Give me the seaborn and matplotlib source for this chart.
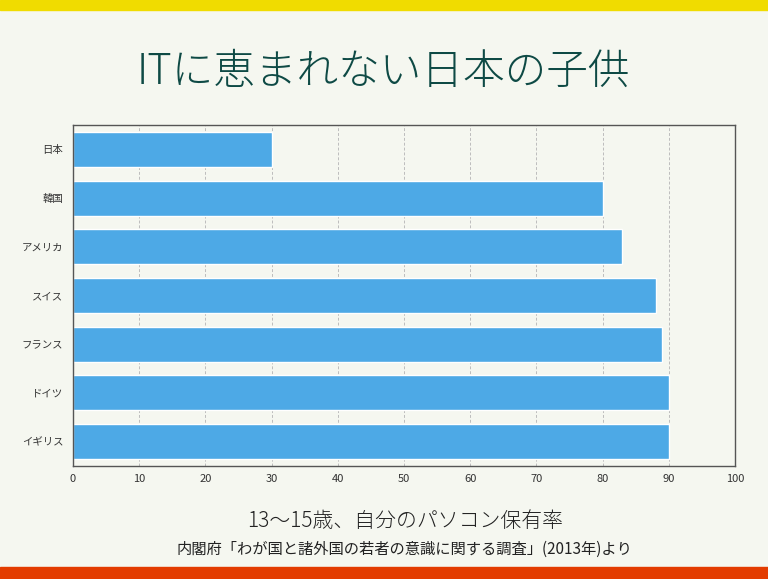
import matplotlib
matplotlib.use("Agg")
import matplotlib.pyplot as plt
import seaborn as sns
import pandas as pd

# 13-15歳のパソコン保有率 (%)
countries = ["日本", "韓国", "アメリカ", "スイス", "フランス", "ドイツ", "イギリス"]
rates = [30, 80, 83, 88, 89, 90, 90]
x_ticks = [0, 10, 20, 30, 40, 50, 60, 70, 80, 90, 100]

df = pd.DataFrame({"country": countries, "rate": rates})

bg = "#f5f7f0"
sns.set_style("ticks")
plt.rcParams["font.family"] = ["Noto Sans CJK JP", "DejaVu Sans"]

fig = plt.figure(figsize=(7.68, 5.79), dpi=100, facecolor=bg)
ax = fig.add_axes([73 / 768, 1 - 466 / 579, (735 - 73) / 768, (466 - 125) / 579])
ax.set_facecolor(bg)

sns.barplot(data=df, x="rate", y="country", color="#4da9e6", saturation=1,
            width=0.72, ax=ax, zorder=2)

ax.set_xlim(0, 100)
ax.set_xticks(x_ticks)
ax.grid(axis="x", linestyle=(0, (3, 2)), color="#bdbdbd", linewidth=0.7, zorder=0)
ax.grid(axis="y", visible=False)
for s in ax.spines.values():
    s.set_visible(True)
    s.set_color("#555555")
    s.set_linewidth(1)
ax.tick_params(axis="x", labelsize=8, length=0, pad=6, colors="#333333")
ax.tick_params(axis="y", labelsize=7.5, length=0, pad=7, colors="#333333")
ax.set_xlabel("")
ax.set_ylabel("")

# 上下の帯
fig.patches.append(plt.Rectangle((0, 1 - 10 / 579), 1, 10 / 579, transform=fig.transFigure,
                                 color="#f0dc00", zorder=0))
fig.patches.append(plt.Rectangle((0, 0), 1, 12 / 579, transform=fig.transFigure,
                                 color="#e33c00", zorder=0))

fig.text(383 / 768, 1 - 72 / 579, "ITに恵まれない日本の子供", ha="center", va="center",
         fontsize=30, fontweight="light", color="#0e4a45")
fig.text(405 / 768, 1 - 521 / 579, "13〜15歳、自分のパソコン保有率", ha="center", va="center",
         fontsize=15, fontweight="light", color="#222222")
fig.text(404 / 768, 1 - 549 / 579, "内閣府「わが国と諸外国の若者の意識に関する調査」(2013年)より",
         ha="center", va="center", fontsize=11, color="#222222")

fig.savefig("out.png", dpi=100, facecolor=bg)
